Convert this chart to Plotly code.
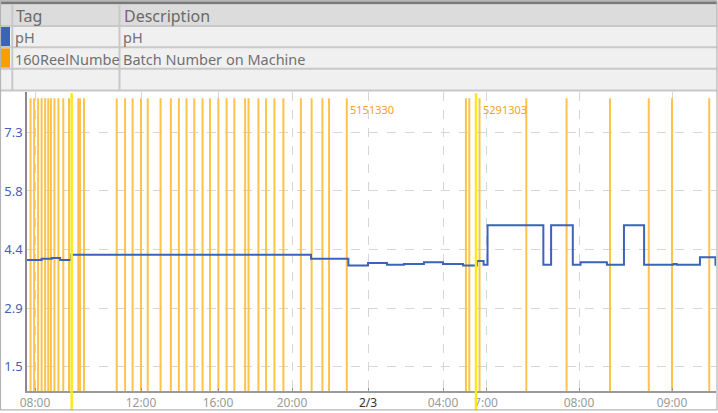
import numpy as np
import plotly.graph_objects as go

# ---------------- data ----------------
PH_TIMES = ["2/2 07:42", "2/2 08:15", "2/2 08:38", "2/2 08:57", "2/2 09:22", "2/2 21:00",
            "2/2 22:58", "2/3 00:00", "2/3 01:01", "2/3 01:55", "2/3 02:59", "2/3 04:00",
            "2/3 05:24", "2/3 06:22", "2/3 06:50", "2/3 07:01", "2/3 07:37", "2/3 07:42",
            "2/3 07:56", "2/3 08:01", "2/3 08:18", "2/3 08:29", "2/3 08:42", "2/3 09:01",
            "2/3 09:03", "2/3 09:18", "2/3 09:28", "2/3 09:29"]
PH_VALUES = [4.14, 4.17, 4.19, 4.14, 4.27, 4.17,
             4.00, 4.06, 4.02, 4.04, 4.08, 4.04,
             4.00, 4.11, 4.02, 5.01, 4.02, 5.01,
             4.02, 4.08, 4.02, 5.01, 4.02, 4.04,
             4.02, 4.21, 4.02, 4.02]

BATCH_TIMES = ["2/2 07:50", "2/2 07:58", "2/2 08:07", "2/2 08:15", "2/2 08:23", "2/2 08:30",
               "2/2 08:36", "2/2 08:44", "2/2 08:53", "2/2 09:04", "2/2 09:17", "2/2 09:38",
               "2/2 09:42", "2/2 09:51", "2/2 11:05", "2/2 11:24", "2/2 11:41", "2/2 12:00",
               "2/2 12:21", "2/2 13:01", "2/2 13:33", "2/2 13:58", "2/2 14:22", "2/2 14:46",
               "2/2 15:12", "2/2 15:35", "2/2 16:01", "2/2 16:28", "2/2 16:53", "2/2 17:28",
               "2/2 17:39", "2/2 18:11", "2/2 18:36", "2/2 19:03", "2/2 19:32", "2/2 20:28",
               "2/2 21:02", "2/2 21:36", "2/2 21:57", "2/2 22:53", "2/3 05:36", "2/3 05:50",
               "2/3 06:33", "2/3 07:26", "2/3 07:52", "2/3 08:20", "2/3 08:45", "2/3 09:00",
               "2/3 09:24"]
BATCH_LABEL_TIMES = ["2/2 22:53", "2/3 06:33"]
BATCH_LABELS = ["5151330", "5291303"]
CURSOR_TIMES = ["2/2 09:23", "2/3 06:18"]

X_TICK_TIMES = ["2/2 08:00", "2/2 12:00", "2/2 16:00", "2/2 20:00", "2/3 00:00",
                "2/3 04:00", "2/3 07:00", "2/3 08:00", "2/3 09:00"]
X_TICK_TEXT = ["08:00", "12:00", "16:00", "20:00", "<span style='color:#333333'>2/3</span>",
               "04:00", "7:00", "08:00", "09:00"]
Y_TICKS = [1.4667, 2.9333, 4.4, 5.8667, 7.3333]
Y_TICK_TEXT = ["1.5", "2.9", "4.4", "5.8", "7.3"]
Y_RANGE = [0.857, 8.346]
BATCH_LINE_TOP = 8.19

TABLE_HEADER = ["Tag", "Description"]
TABLE_ROWS = [["pH", "pH"], ["160ReelNumbe", "Batch Number on Machine"]]

# compressed (broken) time axis used by the trend viewer
AXIS_BREAK_HOURS = [7.7, 8, 12, 16, 20, 24, 28, 31, 32, 33, 33.483]
AXIS_BREAK_POS = [0, 8, 114, 191, 265, 341, 416, 459, 552, 645, 690]


def hours(s):
    day, hm = s.split()
    d = int(day.split("/")[1]) - 2
    h, m = hm.split(":")
    return d * 24 + int(h) + int(m) / 60.0


def to_axis(times):
    return np.interp([hours(t) for t in times], AXIS_BREAK_HOURS, AXIS_BREAK_POS)


# ---------------- layout geometry ----------------
W, H = 718, 413
ML, MR, MT, MB = 27, 2, 92, 20
PW, PH = W - ML - MR, H - MT - MB


def pxx(x):
    return (x - ML) / PW


def pxy(y):
    return (H - MB - y) / PH


BLUE = "#3b63b6"
ORANGE = "#ffc24d"
YELLOW = "#ffe81a"
FONT = "Noto Sans"

fig = go.Figure()

# batch number change lines
bx = to_axis(BATCH_TIMES)
lx, ly = [], []
for x in bx:
    lx += [x, x, None]
    ly += [Y_RANGE[0], BATCH_LINE_TOP, None]
fig.add_trace(go.Scatter(x=lx, y=ly, mode="lines", line=dict(color=ORANGE, width=2),
                         hoverinfo="skip", showlegend=False))

# pH step line
fig.add_trace(go.Scatter(x=to_axis(PH_TIMES), y=PH_VALUES, mode="lines",
                         line=dict(color=BLUE, width=2, shape="hv"), showlegend=False))

shapes = []
annotations = []

# cursor lines
for x in to_axis(CURSOR_TIMES):
    shapes.append(dict(type="line", xref="x", yref="paper", x0=x, x1=x,
                       y0=pxy(413), y1=pxy(93), line=dict(color=YELLOW, width=2.5), layer="above"))

# batch labels
for t, lab in zip(BATCH_LABEL_TIMES, BATCH_LABELS):
    annotations.append(dict(x=to_axis([t])[0], y=7.92, xref="x", yref="y", text=lab,
                            showarrow=False, xanchor="left", xshift=1,
                            font=dict(family=FONT, size=11, color="#f5a320")))


def rect(x0, y0, x1, y1, fill, line=None):
    shapes.append(dict(type="rect", xref="paper", yref="paper",
                       x0=pxx(x0), x1=pxx(x1), y0=pxy(y1), y1=pxy(y0),
                       fillcolor=fill, line=dict(width=0) if line is None else line,
                       layer="below"))


def hline(y, x0, x1, color, width):
    shapes.append(dict(type="line", xref="paper", yref="paper", x0=pxx(x0), x1=pxx(x1),
                       y0=pxy(y), y1=pxy(y), line=dict(color=color, width=width)))


def vline(x, y0, y1, color, width):
    shapes.append(dict(type="line", xref="paper", yref="paper", x0=pxx(x), x1=pxx(x),
                       y0=pxy(y0), y1=pxy(y1), line=dict(color=color, width=width)))


# table
rect(0, 0, 717, 4, "#7a7a7a")
rect(0, 4, 717, 25.5, "#dcdcdc")
rect(0, 25.5, 717, 90.5, "#f0f0f0")
for y in [25.5, 47, 68.5, 90.5]:
    hline(y, 0, 717, "#c8c8c8", 2)
vline(12.3, 4, 90.5, "#c8c8c8", 2)
vline(119.5, 4, 90.5, "#c8c8c8", 2)
rect(0, 26.5, 10, 46, BLUE)
rect(0, 48, 10, 67.5, "#f5a000")

annotations.append(dict(x=pxx(14), y=pxy(15), xref="paper", yref="paper", text=TABLE_HEADER[0],
                        showarrow=False, xanchor="left", yanchor="middle",
                        font=dict(family=FONT, size=16, color="#6a6a6a")))
annotations.append(dict(x=pxx(122), y=pxy(15), xref="paper", yref="paper", text=TABLE_HEADER[1],
                        showarrow=False, xanchor="left", yanchor="middle",
                        font=dict(family=FONT, size=16, color="#6a6a6a")))
for i, row in enumerate(TABLE_ROWS):
    yc = 37 + i * 21.5
    annotations.append(dict(x=pxx(13), y=pxy(yc), xref="paper", yref="paper", text=row[0],
                            showarrow=False, xanchor="left", yanchor="middle",
                            font=dict(family=FONT, size=14.5, color="#707070")))
    annotations.append(dict(x=pxx(121), y=pxy(yc), xref="paper", yref="paper", text=row[1],
                            showarrow=False, xanchor="left", yanchor="middle",
                            font=dict(family=FONT, size=14.5, color="#707070")))

# outer border
shapes.append(dict(type="rect", xref="paper", yref="paper", x0=pxx(0.5), x1=pxx(717),
                   y0=pxy(412), y1=pxy(0.5), line=dict(color="#b4b4b4", width=1.2),
                   fillcolor="rgba(0,0,0,0)"))

fig.update_layout(
    width=W, height=H,
    margin=dict(l=ML, r=MR, t=MT, b=MB),
    paper_bgcolor="white", plot_bgcolor="white",
    shapes=shapes, annotations=annotations,
    showlegend=False,
    xaxis=dict(range=[AXIS_BREAK_POS[0], AXIS_BREAK_POS[-1] - 1], tickmode="array",
               tickvals=to_axis(X_TICK_TIMES), ticktext=X_TICK_TEXT,
               showgrid=True, gridcolor="#d6d6d6", griddash="dash", gridwidth=1,
               showline=True, linecolor="#9a9a9a", linewidth=1.5,
               ticks="inside", ticklen=3, tickcolor="#9a9a9a",
               tickfont=dict(family=FONT, size=12, color="#9a9a9a"),
               zeroline=False, fixedrange=True),
    yaxis=dict(range=Y_RANGE, tickmode="array", tickvals=Y_TICKS, ticktext=Y_TICK_TEXT,
               showgrid=True, gridcolor="#d6d6d6", griddash="dash", gridwidth=1,
               showline=True, linecolor="#8a8a8a", linewidth=1.5, ticks="",
               tickfont=dict(family=FONT, size=13, color="#3f63b5"),
               zeroline=False, fixedrange=True),
)

fig.write_html("out.html", config={"displayModeBar": False},
               post_script="document.body.style.margin='0';document.body.style.overflow='hidden';")
